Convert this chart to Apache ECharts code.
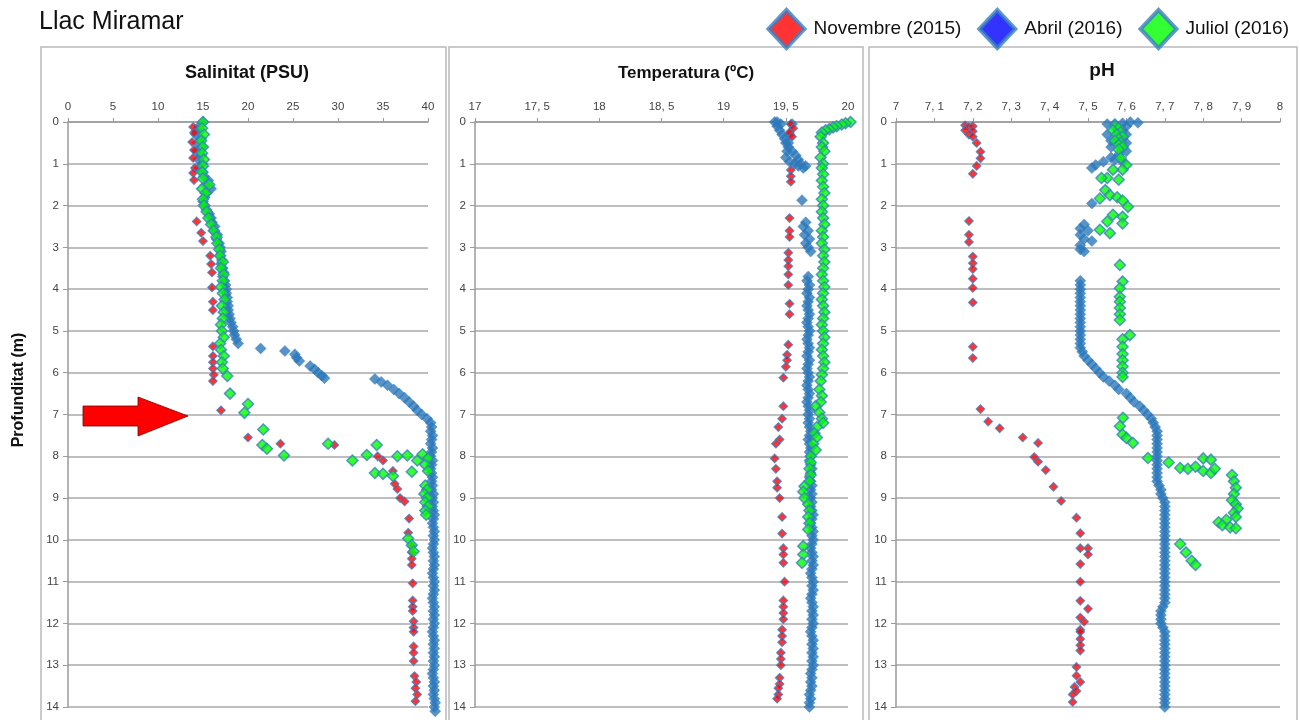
<!DOCTYPE html>
<html>
<head>
<meta charset="utf-8">
<script src="https://cdn.jsdelivr.net/npm/echarts@6/dist/echarts.min.js"></script>
<style>html,body{margin:0;padding:0;background:#fff}#c{width:1300px;height:720px}</style>
</head>
<body>
<div id="c"></div>
<script>
// ---------- DATA: [value, depth (m)] ----------
const seriesNames = ['Novembre (2015)', 'Abril (2016)', 'Juliol (2016)'];
const salTicks = [0, 5, 10, 15, 20, 25, 30, 35, 40];
const tempTicks = [17, 17.5, 18, 18.5, 19, 19.5, 20];
const phTicks = [7, 7.1, 7.2, 7.3, 7.4, 7.5, 7.6, 7.7, 7.8, 7.9, 8];
const depthTicks = [0,1,2,3,4,5,6,7,8,9,10,11,12,13,14];

// Salinitat
const salNov = [
[13.9,0.12],[14.0,0.26],[13.8,0.48],[14.0,0.67],[13.9,0.86],[14.1,1.1],[13.9,1.22],[14.0,1.39],
[14.3,2.38],[14.8,2.65],[15.0,2.85],[15.8,3.2],[15.9,3.4],[16.0,3.6],[16.0,3.96],[16.1,4.3],[16.1,4.5],
[16.1,5.37],[16.1,5.6],[16.1,5.75],[16.1,5.9],[16.2,6.05],[16.1,6.2],[17.0,6.9],[20.0,7.55],[23.6,7.7],
[29.6,7.73],[34.4,8.0],[35.0,8.1],[36.1,8.35],[36.3,8.66],[36.6,8.78],[36.9,9.0],[37.4,9.08],[37.9,9.49],
[37.8,9.83],[38.2,10.15],[38.2,10.3],[38.2,10.45],[38.2,10.6],[38.3,11.04],[38.3,11.45],[38.3,11.6],
[38.3,11.7],[38.4,11.95],[38.4,12.1],[38.4,12.2],[38.4,12.55],[38.4,12.7],[38.4,12.9],[38.5,13.26],
[38.7,13.4],[38.6,13.55],[38.8,13.7],[38.6,13.86]
];
const salAbr = [
[15.0,0.0],[14.6,0.1],[14.3,0.2],[14.2,0.3],[14.8,0.4],[14.4,0.5],[14.9,0.6],[14.3,0.7],[14.8,0.8],[14.5,0.9],
[14.9,1.0],[14.6,1.1],[15.0,1.2],[15.1,1.3],[15.6,1.4],[15.3,1.5],[15.9,1.6],[15.4,1.7],[15.2,1.8],[15.0,1.9],
[15.2,2.0],[15.4,2.1],[15.7,2.2],[15.9,2.3],[16.0,2.4],[16.3,2.5],[16.2,2.6],[16.6,2.7],[16.5,2.8],[16.8,2.9],
[16.9,3.0],[17.0,3.1],[16.9,3.2],[17.1,3.3],[17.0,3.4],[17.2,3.5],[17.3,3.6],[17.2,3.7],[17.4,3.8],[17.5,3.9],
[17.6,4.0],[17.6,4.1],[17.7,4.2],[17.7,4.3],[17.8,4.4],[17.8,4.5],[17.9,4.6],[18.0,4.7],[18.1,4.8],[18.3,4.9],
[18.4,5.0],[18.5,5.1],[18.7,5.2],[18.9,5.3],[21.4,5.42],[24.1,5.48],[25.2,5.56],[25.4,5.64],[25.7,5.72],[26.9,5.84],
[27.4,5.92],[27.8,6.0],[28.2,6.07],[28.5,6.13],[34.1,6.15],[34.8,6.22],[35.5,6.3],[36.2,6.4],[36.8,6.5],[37.4,6.6],
[37.9,6.7],[38.4,6.8],[38.8,6.9],[39.3,7.0],[39.9,7.1],[40.3,7.2],[40.4,7.3],[40.3,7.4],[40.5,7.5],[40.4,7.6],
[40.3,7.7],[40.5,7.8],[40.4,7.9],[40.3,8.0],[40.5,8.1],[40.4,8.2],[40.3,8.3],[40.4,8.4],[40.5,8.5],[40.4,8.6],
[40.5,8.7],[40.4,8.8],[40.6,8.9],[40.5,9.0],[40.6,9.1],[40.5,9.2],[40.6,9.3],[40.7,9.4],[40.6,9.5],[40.5,9.6],
[40.6,9.7],[40.7,9.8],[40.6,9.9],[40.7,10.0],[40.6,10.1],[40.5,10.2],[40.6,10.3],[40.7,10.4],[40.6,10.5],[40.7,10.6],
[40.6,10.7],[40.5,10.8],[40.6,10.9],[40.7,11.0],[40.6,11.1],[40.7,11.2],[40.6,11.3],[40.5,11.4],[40.6,11.5],[40.7,11.6],
[40.6,11.7],[40.7,11.8],[40.6,11.9],[40.7,12.0],[40.6,12.1],[40.5,12.2],[40.6,12.3],[40.7,12.4],[40.6,12.5],[40.7,12.6],
[40.6,12.7],[40.7,12.8],[40.6,12.9],[40.7,13.0],[40.6,13.1],[40.5,13.2],[40.6,13.3],[40.7,13.4],[40.6,13.5],[40.7,13.6],
[40.6,13.7],[40.7,13.8],[40.8,13.9],[40.7,14.0],[40.8,14.1]
];
const salJul = [
[15.0,0.0],[14.9,0.15],[15.1,0.3],[14.8,0.45],[15.0,0.6],[14.9,0.75],[15.1,0.9],[15.0,1.05],[14.9,1.2],[15.0,1.35],
[15.7,1.5],[14.9,1.6],[15.3,1.7],[15.0,1.85],[15.1,2.0],[15.4,2.15],[15.6,2.3],[15.9,2.45],[16.2,2.6],[16.5,2.75],
[16.6,2.9],[16.8,3.05],[16.9,3.2],[17.2,3.35],[17.0,3.5],[17.3,3.65],[17.2,3.8],[17.0,3.95],[17.2,4.1],[17.4,4.25],
[17.1,4.4],[17.3,4.55],[17.2,4.7],[17.0,4.85],[17.1,5.0],[17.3,5.15],[16.9,5.3],[17.0,5.45],[17.3,5.6],[17.1,5.75],
[17.2,5.9],[17.7,6.08],[18.0,6.5],[20.0,6.75],[19.6,6.96],[21.7,7.36],[21.6,7.73],[22.1,7.82],[24.0,7.98],[28.9,7.7],
[31.6,8.1],[33.2,7.97],[34.3,7.73],[34.1,8.4],[35.0,8.42],[36.1,8.47],[36.6,8.0],[37.7,7.98],[38.2,8.37],[38.8,8.1],
[39.4,7.95],[40.0,8.05],[39.7,8.2],[40.0,8.35],[39.7,8.7],[39.9,8.8],[39.6,8.9],[39.9,9.0],[39.7,9.1],[40.0,9.2],
[39.7,9.3],[39.8,9.4],[37.8,9.97],[38.2,10.13],[38.4,10.28]
];

// Temperatura
const tempNov = [
[19.54,0.05],[19.56,0.15],[19.53,0.25],[19.55,0.35],[19.54,1.15],[19.54,1.3],[19.54,1.43],[19.53,2.3],[19.53,2.6],
[19.53,2.75],[19.52,3.13],[19.52,3.3],[19.52,3.45],[19.52,3.65],[19.52,3.9],[19.53,4.35],[19.53,4.6],[19.52,5.33],
[19.51,5.57],[19.51,5.7],[19.50,5.86],[19.48,6.12],[19.48,6.8],[19.47,7.1],[19.44,7.3],[19.45,7.6],[19.42,7.7],
[19.41,8.05],[19.42,8.3],[19.43,8.6],[19.43,8.75],[19.45,9.0],[19.47,9.45],[19.47,9.85],[19.48,10.2],[19.48,10.35],
[19.48,10.55],[19.49,11.0],[19.48,11.45],[19.48,11.6],[19.48,11.75],[19.48,11.9],[19.47,12.15],[19.47,12.3],
[19.47,12.45],[19.46,12.7],[19.46,12.85],[19.46,13.0],[19.45,13.3],[19.45,13.45],[19.44,13.55],[19.44,13.7],[19.43,13.8]
];
const tempAbr = [
[19.41,0.0],[19.43,0.1],[19.45,0.2],[19.47,0.3],[19.49,0.4],[19.50,0.5],[19.52,0.6],[19.55,0.7],[19.58,0.8],[19.60,0.9],
[19.62,1.0],[19.64,1.1],[19.43,0.0],[19.46,0.05],[19.55,0.05],[19.53,0.3],[19.52,0.5],[19.51,0.7],[19.50,0.85],[19.53,0.95],
[19.57,1.0],[19.60,1.05],[19.66,1.05],[19.63,1.87],
[19.66,2.4],[19.64,2.5],[19.68,2.6],[19.65,2.7],[19.69,2.8],[19.66,2.9],[19.68,3.0],[19.70,3.1],
[19.68,3.7],[19.67,3.8],[19.69,3.9],[19.68,4.0],[19.67,4.1],[19.69,4.2],[19.68,4.3],[19.67,4.4],[19.68,4.5],[19.69,4.6],
[19.68,4.7],[19.67,4.8],[19.68,4.9],[19.69,5.0],[19.68,5.1],[19.67,5.2],[19.68,5.3],[19.69,5.4],[19.68,5.5],[19.67,5.6],
[19.69,5.7],[19.68,5.8],[19.67,5.9],[19.68,6.0],[19.69,6.1],[19.68,6.2],[19.67,6.3],[19.68,6.4],[19.69,6.5],[19.68,6.6],
[19.67,6.7],[19.68,6.8],[19.69,6.9],[19.68,7.0],[19.69,7.1],[19.68,7.2],[19.69,7.3],[19.70,7.4],[19.69,7.5],[19.68,7.6],
[19.69,7.7],[19.70,7.8],[19.69,7.9],[19.70,8.0],[19.69,8.1],[19.70,8.2],[19.71,8.3],[19.70,8.4],[19.69,8.5],[19.70,8.6],
[19.71,8.7],[19.70,8.8],[19.71,8.9],[19.70,9.0],[19.71,9.1],[19.70,9.2],[19.71,9.3],[19.72,9.4],[19.71,9.5],[19.70,9.6],
[19.71,9.7],[19.72,9.8],[19.71,9.9],[19.72,10.0],[19.71,10.1],[19.70,10.2],[19.71,10.3],[19.72,10.4],[19.71,10.5],[19.72,10.6],
[19.71,10.7],[19.70,10.8],[19.71,10.9],[19.72,11.0],[19.71,11.1],[19.72,11.2],[19.71,11.3],[19.70,11.4],[19.71,11.5],[19.72,11.6],
[19.71,11.7],[19.72,11.8],[19.71,11.9],[19.72,12.0],[19.71,12.1],[19.70,12.2],[19.71,12.3],[19.72,12.4],[19.71,12.5],[19.72,12.6],
[19.71,12.7],[19.72,12.8],[19.71,12.9],[19.72,13.0],[19.71,13.1],[19.70,13.2],[19.71,13.3],[19.70,13.4],[19.71,13.5],[19.70,13.6],
[19.69,13.7],[19.70,13.8],[19.69,13.9],[19.69,14.0]
];
const tempJul = [
[20.02,0.0],[19.98,0.03],[19.95,0.06],[19.91,0.1],[19.88,0.13],[19.85,0.17],[19.82,0.2],[19.79,0.25],
[19.78,0.35],[19.80,0.5],[19.79,0.6],[19.81,0.7],[19.78,0.85],[19.80,1.0],[19.79,1.1],[19.80,1.25],[19.79,1.4],[19.80,1.55],
[19.81,1.7],[19.79,1.85],[19.80,2.0],[19.79,2.15],[19.80,2.3],[19.81,2.45],[19.79,2.6],[19.80,2.75],[19.79,2.9],[19.81,3.05],
[19.80,3.2],[19.81,3.35],[19.80,3.5],[19.79,3.65],[19.80,3.8],[19.81,3.95],[19.80,4.1],[19.79,4.25],[19.80,4.4],[19.81,4.55],
[19.80,4.7],[19.79,4.85],[19.80,5.0],[19.81,5.15],[19.80,5.3],[19.79,5.45],[19.80,5.6],[19.81,5.75],[19.80,5.9],[19.79,6.05],
[19.78,6.2],[19.77,6.4],[19.79,6.55],[19.78,6.7],[19.74,6.8],[19.77,6.95],[19.79,7.1],[19.80,7.2],[19.75,7.3],[19.73,7.45],
[19.75,7.55],[19.72,7.7],[19.74,7.85],[19.70,8.0],[19.70,8.15],[19.69,8.3],[19.70,8.45],[19.69,8.6],[19.65,8.72],[19.64,8.85],
[19.65,9.0],[19.68,9.15],[19.69,9.3],[19.68,9.45],[19.69,9.6],[19.68,9.75],[19.64,10.15],[19.64,10.35],[19.63,10.55]
];

// pH
const phNov = [
[7.18,0.08],[7.19,0.12],[7.20,0.1],[7.18,0.2],[7.20,0.22],[7.19,0.3],[7.20,0.35],[7.21,0.5],[7.22,0.71],[7.22,0.87],
[7.21,1.05],[7.20,1.24],[7.19,2.37],[7.19,2.7],[7.19,2.87],[7.20,3.22],[7.20,3.38],[7.20,3.52],[7.20,3.75],[7.20,3.97],
[7.20,4.32],[7.20,5.38],[7.20,5.65],[7.22,6.87],[7.24,7.17],[7.27,7.33],[7.33,7.55],[7.37,7.68],[7.36,8.02],[7.37,8.13],
[7.39,8.33],[7.41,8.73],[7.43,9.07],[7.47,9.47],[7.48,9.84],[7.48,10.2],[7.50,10.2],[7.50,10.35],[7.48,10.58],[7.48,11.0],
[7.48,11.46],[7.50,11.65],[7.48,11.86],[7.49,11.96],[7.48,12.15],[7.48,12.2],[7.48,12.37],[7.48,12.52],[7.48,12.65],
[7.47,13.04],[7.47,13.25],[7.48,13.4],[7.465,13.52],[7.47,13.62],[7.46,13.7],[7.46,13.88]
];
const phAbr = [
[7.55,0.05],[7.57,0.04],[7.59,0.03],[7.61,0.0],[7.63,0.02],[7.60,0.1],[7.59,0.2],[7.60,0.3],[7.59,0.4],[7.60,0.5],
[7.59,0.6],[7.55,0.3],[7.56,0.45],[7.56,0.6],[7.60,0.7],[7.58,0.78],[7.56,0.85],[7.54,0.95],[7.52,1.03],[7.51,1.1],
[7.57,0.9],[7.59,0.95],[7.51,1.95],
[7.49,2.45],[7.48,2.55],[7.50,2.6],[7.48,2.7],[7.49,2.8],[7.51,2.85],[7.48,2.95],[7.48,3.05],[7.49,3.1],
[7.48,3.8],[7.48,3.9],[7.48,4.0],[7.48,4.1],[7.48,4.2],[7.48,4.3],[7.48,4.4],[7.48,4.5],[7.48,4.6],[7.48,4.7],
[7.48,4.8],[7.48,4.9],[7.48,5.0],[7.48,5.1],[7.48,5.2],[7.48,5.3],[7.48,5.4],[7.485,5.5],[7.49,5.6],[7.50,5.7],
[7.51,5.8],[7.52,5.9],[7.53,6.0],[7.54,6.1],[7.555,6.2],[7.57,6.3],[7.58,6.4],[7.60,6.5],[7.61,6.6],[7.62,6.7],
[7.635,6.8],[7.645,6.9],[7.655,7.0],[7.665,7.1],[7.67,7.2],[7.675,7.3],[7.68,7.4],[7.68,7.5],[7.68,7.6],[7.68,7.7],
[7.68,7.8],[7.68,7.9],[7.68,8.0],[7.68,8.1],[7.68,8.2],[7.68,8.3],[7.68,8.4],[7.68,8.5],[7.68,8.6],[7.685,8.7],
[7.69,8.8],[7.69,8.9],[7.695,9.0],[7.70,9.1],[7.70,9.2],[7.70,9.3],[7.70,9.4],[7.70,9.5],[7.70,9.6],[7.70,9.7],
[7.70,9.8],[7.70,9.9],[7.70,10.0],[7.70,10.1],[7.70,10.2],[7.70,10.3],[7.70,10.4],[7.70,10.5],[7.70,10.6],[7.70,10.7],
[7.70,10.8],[7.70,10.9],[7.70,11.0],[7.70,11.1],[7.70,11.2],[7.70,11.3],[7.70,11.4],[7.70,11.5],[7.695,11.6],[7.69,11.7],
[7.69,11.8],[7.69,11.9],[7.69,12.0],[7.695,12.1],[7.70,12.2],[7.70,12.3],[7.70,12.4],[7.70,12.5],[7.70,12.6],[7.70,12.7],
[7.70,12.8],[7.70,12.9],[7.70,13.0],[7.70,13.1],[7.70,13.2],[7.70,13.3],[7.70,13.4],[7.70,13.5],[7.70,13.6],[7.70,13.7],
[7.70,13.8],[7.70,13.9],[7.70,14.0]
];
const phJul = [
[7.57,0.1],[7.58,0.15],[7.565,0.2],[7.585,0.25],[7.575,0.3],[7.59,0.35],[7.58,0.4],[7.57,0.45],[7.585,0.5],[7.58,0.55],
[7.59,0.6],[7.58,0.66],[7.585,0.86],[7.60,1.03],[7.59,1.14],[7.565,1.14],[7.55,1.34],[7.535,1.34],[7.58,1.38],[7.545,1.63],
[7.557,1.75],[7.576,1.8],[7.59,1.88],[7.604,2.03],[7.531,1.83],[7.565,2.22],[7.59,2.27],[7.55,2.38],[7.59,2.43],[7.531,2.58],
[7.557,2.66],[7.583,3.42],[7.59,3.82],[7.583,3.98],[7.583,4.18],[7.583,4.3],[7.583,4.45],[7.583,4.6],[7.583,4.74],[7.609,5.1],
[7.59,5.2],[7.59,5.38],[7.59,5.55],[7.59,5.7],[7.59,5.85],[7.59,6.0],[7.59,6.1],[7.591,7.08],[7.583,7.28],[7.59,7.48],
[7.60,7.56],[7.617,7.68],[7.656,8.04],[7.71,8.15],[7.74,8.28],[7.76,8.3],[7.78,8.25],[7.80,8.05],[7.82,8.08],[7.80,8.35],
[7.82,8.4],[7.83,8.3],[7.875,8.45],[7.88,8.6],[7.885,8.75],[7.88,8.9],[7.875,9.05],[7.885,9.15],[7.89,9.25],[7.88,9.35],
[7.885,9.45],[7.86,9.52],[7.84,9.58],[7.85,9.65],[7.87,9.7],[7.885,9.72],[7.74,10.1],[7.755,10.3],[7.77,10.5],[7.78,10.6]
];

// ---------- CHART ----------
const FONT = '"Liberation Sans", Arial, Helvetica, sans-serif';
const BORDER = '#3a80c2';
const ABRIL = '#2c78ba';
const chart = echarts.init(document.getElementById('c'), null, {renderer: 'canvas'});

const grids = [
  {left: 68, top: 122, width: 360, height: 585},
  {left: 475, top: 122, width: 373, height: 585},
  {left: 896, top: 122, width: 384, height: 585}
];
const commaFmt = v => String(Math.round(v * 10) / 10).replace('.', ', ');

function xAx(i, ticks, fmt) {
  return {
    gridIndex: i, type: 'value', position: 'top',
    min: ticks[0], max: ticks[ticks.length - 1], interval: ticks[1] - ticks[0],
    axisLine: {show: true, onZero: false, lineStyle: {color: '#9a9a9a', width: 1.5}},
    axisTick: {show: true, length: 4, lineStyle: {color: '#9a9a9a'}},
    axisLabel: {fontSize: 11.5, color: '#444', margin: 9, fontFamily: FONT, formatter: fmt},
    splitLine: {show: false}
  };
}
function yAx(i) {
  return {
    gridIndex: i, type: 'value', inverse: true,
    min: depthTicks[0], max: depthTicks[depthTicks.length - 1], interval: 1,
    axisLine: {show: true, onZero: false, lineStyle: {color: '#9a9a9a', width: 1.5}},
    axisTick: {show: true, length: 5, lineStyle: {color: '#9a9a9a'}},
    axisLabel: {fontSize: 11.5, color: '#444', margin: 9, fontFamily: FONT},
    splitLine: {show: true, lineStyle: {color: '#a8a8a8', width: 1.5}}
  };
}
const styles = {
  'Novembre (2015)': {size: 8.5, item: {color: '#ff0000', borderColor: BORDER, borderWidth: 1.2}},
  'Abril (2016)': {size: 11, item: {color: ABRIL, borderColor: ABRIL, borderWidth: 0.5}},
  'Juliol (2016)': {size: 11, item: {color: '#00ff00', borderColor: BORDER, borderWidth: 1.5}}
};
function sc(name, i, data, z) {
  return {
    name, type: 'scatter', xAxisIndex: i, yAxisIndex: i, data, z,
    symbol: 'diamond', symbolSize: styles[name].size, itemStyle: styles[name].item,
    clip: false, silent: true
  };
}
const panelData = [
  [salNov, salAbr, salJul],
  [tempNov, tempAbr, tempJul],
  [phNov, phAbr, phJul]
];
const series = [];
panelData.forEach((p, i) => {
  series.push(sc(seriesNames[1], i, p[1], 2));
  series.push(sc(seriesNames[0], i, p[0], 3));
  series.push(sc(seriesNames[2], i, p[2], 4));
});

const panelRect = (x, w) => ({type: 'rect', shape: {x, y: 47, width: w, height: 700},
  style: {fill: 'none', stroke: '#b9b9b9', lineWidth: 1.5}, z: -1});
const txt = (x, y, text, size, weight, extra) => Object.assign({type: 'text', x, y,
  style: {text, font: (weight || 'normal') + ' ' + size + 'px ' + FONT, fill: '#111',
    textAlign: 'center', textVerticalAlign: 'middle'}}, extra || {});

const option = {
  animation: false,
  backgroundColor: '#fff',
  grid: grids,
  xAxis: [xAx(0, salTicks), xAx(1, tempTicks, commaFmt), xAx(2, phTicks, commaFmt)],
  yAxis: [yAx(0), yAx(1), yAx(2)],
  legend: {
    data: [
      {name: seriesNames[0], itemStyle: {color: '#ff0000', borderColor: BORDER, borderWidth: 4}},
      {name: seriesNames[1], itemStyle: {color: '#0000ff', borderColor: BORDER, borderWidth: 4}},
      {name: seriesNames[2], itemStyle: {color: '#00ff00', borderColor: BORDER, borderWidth: 4}}
    ],
    icon: 'diamond', right: 6, top: 3, itemWidth: 36, itemHeight: 38, itemGap: 16,
    textStyle: {fontSize: 19, color: '#111', fontFamily: FONT, padding: [0, 0, 0, 4]}, selectedMode: false
  },
  graphic: [
    panelRect(41, 405), panelRect(449, 414), panelRect(869, 428),
    {type: 'text', x: 39, y: 22, style: {text: 'Llac Miramar', font: 'normal 25px ' + FONT, fill: '#111', textVerticalAlign: 'middle'}},
    txt(247, 73, 'Salinitat (PSU)', 18, 'bold'),
    txt(686, 73, 'Temperatura (ºC)', 17, 'bold'),
    txt(1102, 71, 'pH', 19, 'bold'),
    txt(19, 390, 'Profunditat (m)', 16, 'bold', {rotation: Math.PI / 2}),
    {type: 'polygon', shape: {points: [[83, 406], [138, 406], [138, 397], [188, 416], [138, 436], [138, 426], [83, 426]]},
      style: {fill: '#ff0000', stroke: '#7a0000', lineWidth: 0.8}, z: 10}
  ],
  series
};
chart.setOption(option);
</script>
</body>
</html>
